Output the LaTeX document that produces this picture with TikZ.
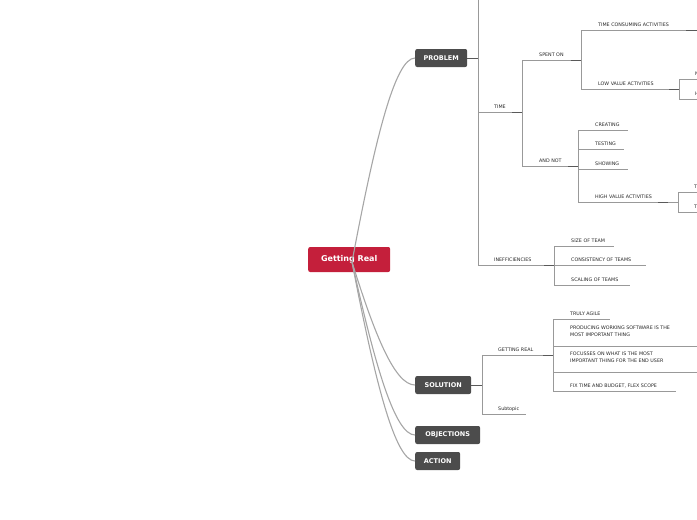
\documentclass[tikz,border=0pt]{standalone}
\usepackage{fontspec}
\setmainfont{DejaVu Sans}
\definecolor{crim}{HTML}{C41F3B}
\begin{document}
\begin{tikzpicture}[x=1pt,y=-1pt,
  main/.style={rounded corners=2pt,fill=#1,text=white,font=\bfseries\fontsize{6.5}{7}\selectfont,inner sep=0pt,anchor=west},
  lbl/.style={font=\fontsize{4.8}{6.6}\selectfont,text=black!85,inner sep=0pt,anchor=base west,align=left},
  ln/.style={draw=black!40,line width=0.6pt},
  dk/.style={draw=black!65,line width=0.9pt},
  cv/.style={draw=black!35,line width=1.1pt}]
\useasboundingbox (0,0) rectangle (697,520);
\clip (0,0) rectangle (697,520);
\node[main=crim,minimum width=82pt,minimum height=25pt,font=\bfseries\fontsize{8}{9}\selectfont] (root) at (308,259.5) {Getting Real};
\node[main=black!70,minimum width=52pt,minimum height=18pt] (prob) at (415,58) {PROBLEM};
\node[main=black!70,minimum width=56pt,minimum height=18pt] (sol) at (415,385) {SOLUTION};
\node[main=black!70,minimum width=65pt,minimum height=18pt] (obj) at (415,435) {OBJECTIONS};
\node[main=black!70,minimum width=45pt,minimum height=18pt] (act) at (415,461) {ACTION};
\coordinate (c) at (352,262);
\foreach \t/\y in {prob/58,sol/385,obj/435,act/461}{
  \draw[cv] (c) .. controls (375,{262+(\y-262)*0.6}) and (395,{\y}) .. (\t.west);
}
\newcommand{\br}[5]{%
  \draw[ln] (#1,#3) -- (#2,#3);
  \node[lbl] at (#4,{#3-4}) {#5};}
% PROBLEM
\draw[dk] (prob.east) -- (478,58);
\draw[ln] (478,0) -- (478,265);
\br{478}{522}{112}{494}{TIME}
\draw[dk] (512,112) -- (522,112);
\draw[ln] (522,60) -- (522,166);
\br{522}{581}{60}{539}{SPENT ON}
\br{522}{578}{166}{539}{AND NOT}
\draw[dk] (571,60) -- (581,60); \draw[dk] (568,166) -- (578,166);
\draw[ln] (581,30) -- (581,89);
\br{581}{697}{30}{598}{TIME CONSUMING ACTIVITIES}
\draw[dk] (686,30) -- (697,30);
\draw[ln] (697,30) -- (697,52);
\br{581}{679}{89}{598}{LOW VALUE ACTIVITIES}
\draw[dk] (669,89) -- (679,89);
\draw[ln] (679,79) -- (679,99);
\br{679}{697}{79}{695}{N}
\br{679}{697}{99}{695}{H}
\draw[ln] (578,130) -- (578,202);
\br{578}{628}{130}{595}{CREATING}
\br{578}{624}{149}{595}{TESTING}
\br{578}{628}{169}{595}{SHOWING}
\br{578}{668}{202}{595}{HIGH VALUE ACTIVITIES}
\draw[dk] (658,202) -- (668,202);
\draw[ln] (678,192) -- (678,212);
\draw[ln] (668,202) -- (678,202);
\br{678}{697}{192}{694}{T}
\br{678}{697}{212}{694}{T}
\br{478}{554}{265}{494}{INEFFICIENCIES}
\draw[dk] (544,265) -- (554,265);
\draw[ln] (554,246) -- (554,285);
\br{554}{614}{246}{571}{SIZE OF TEAM}
\br{554}{646}{265}{571}{CONSISTENCY OF TEAMS}
\br{554}{630}{285}{571}{SCALING OF TEAMS}
% SOLUTION
\draw[dk] (sol.east) -- (482,385);
\draw[ln] (482,355) -- (482,414);
\br{482}{553}{355}{498}{GETTING REAL}
\draw[dk] (543,355) -- (553,355);
\br{482}{526}{414}{498}{Subtopic}
\draw[ln] (553,319) -- (553,391);
\br{553}{610}{319}{570}{TRULY AGILE}
\draw[ln] (553,346) -- (697,346);
\node[lbl,anchor=base west] at (570,336) {PRODUCING WORKING SOFTWARE IS THE\\MOST IMPORTANT THING};
\draw[ln] (553,372) -- (697,372);
\node[lbl,anchor=base west] at (570,362) {FOCUSSES ON WHAT IS THE MOST\\IMPORTANT THING FOR THE END USER};
\br{553}{676}{391}{570}{FIX TIME AND BUDGET, FLEX SCOPE}
\end{tikzpicture}
\end{document}
